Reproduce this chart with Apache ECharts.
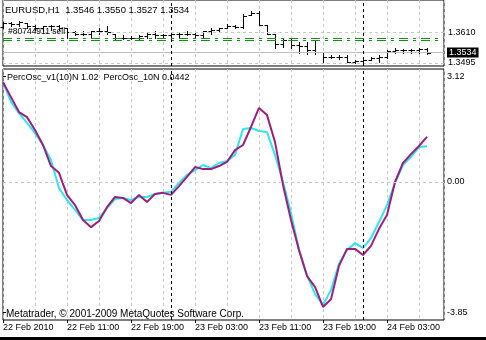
<!DOCTYPE html>
<html><head><meta charset="utf-8">
<script src="https://cdn.jsdelivr.net/npm/echarts@6/dist/echarts.min.js"></script>
<style>html,body{margin:0;padding:0;background:#fff;overflow:hidden}#c{width:486px;height:340px}</style>
</head><body><div id="c"></div>
<script>
// ---- price bars (EURUSD, H1), one per hour starting 22 Feb 2010 ----
const opens  = [1.3631,1.3646,1.3642,1.3644,1.3635,1.3624,1.3635,1.3635,1.3624,1.3609,
                1.3605,1.3605,1.3613,1.3616,1.3605,1.3590,1.3590,1.3590,1.3594,1.3605,
                1.3598,1.3598,1.3602,1.3605,1.3605,1.3598,1.3613,1.3620,1.3627,1.3635,
                1.3631,1.3675,1.3683,1.3638,1.3605,1.3565,1.3579,1.3561,1.3557,1.3543,
                1.3535,1.3517,1.3517,1.3517,1.3498,1.3502,1.3506,1.3513,1.3517,1.3539,
                1.3543,1.3543,1.3543,1.3546];
const highs  = [1.3648,1.3648,1.3651,1.3644,1.3638,1.3635,1.3638,1.3638,1.3624,1.3613,
                1.3613,1.3616,1.3624,1.3635,1.3605,1.3598,1.3594,1.3598,1.3609,1.3613,
                1.3605,1.3605,1.3609,1.3613,1.3609,1.3616,1.3624,1.3627,1.3642,1.3638,
                1.3679,1.3690,1.3690,1.3638,1.3605,1.3587,1.3587,1.3572,1.3572,1.3579,
                1.3535,1.3524,1.3524,1.3524,1.3506,1.3513,1.3517,1.3524,1.3543,1.3550,
                1.3546,1.3546,1.3550,1.3550];
const lows   = [1.3627,1.3635,1.3635,1.3627,1.3620,1.3616,1.3620,1.3620,1.3590,1.3598,
                1.3598,1.3590,1.3605,1.3605,1.3579,1.3583,1.3583,1.3579,1.3587,1.3590,
                1.3590,1.3590,1.3590,1.3598,1.3590,1.3590,1.3605,1.3613,1.3627,1.3624,
                1.3624,1.3675,1.3638,1.3605,1.3550,1.3554,1.3550,1.3531,1.3528,1.3528,
                1.3495,1.3513,1.3509,1.3495,1.3495,1.3495,1.3506,1.3498,1.3513,1.3531,
                1.3531,1.3531,1.3531,1.3527];
const closes = [1.3646,1.3642,1.3649,1.3635,1.3624,1.3635,1.3635,1.3624,1.3609,1.3605,
                1.3605,1.3613,1.3616,1.3609,1.3590,1.3590,1.3590,1.3594,1.3605,1.3598,
                1.3598,1.3602,1.3605,1.3605,1.3598,1.3613,1.3620,1.3624,1.3635,1.3631,
                1.3672,1.3683,1.3638,1.3605,1.3565,1.3579,1.3561,1.3557,1.3543,1.3535,
                1.3517,1.3517,1.3517,1.3498,1.3502,1.3506,1.3513,1.3517,1.3539,1.3543,
                1.3543,1.3543,1.3546,1.3534];

// ---- oscillators ----
const percOscV1 = [2.94,2.50,2.06,1.91,1.53,1.09,0.47,0.27,-0.38,-0.68,
                   -1.12,-1.33,-1.15,-0.74,-0.44,-0.47,-0.62,-0.38,-0.59,-0.35,
                   -0.32,-0.38,-0.12,0.15,0.44,0.38,0.38,0.47,0.59,0.94,
                   1.09,1.62,2.18,1.97,1.18,-0.09,-1.12,-2.00,-2.77,-3.09,
                   -3.68,-3.45,-2.47,-1.97,-1.97,-2.15,-1.88,-1.38,-0.97,0.00,
                   0.56,0.82,1.06,1.33];
const percOsc10N = [2.94,2.36,2.03,1.74,1.44,1.09,0.65,-0.18,-0.53,-0.82,
                    -1.12,-1.12,-1.06,-0.77,-0.50,-0.47,-0.53,-0.44,-0.44,-0.35,
                    -0.32,-0.29,-0.03,0.21,0.35,0.50,0.41,0.56,0.62,0.80,
                    1.56,1.59,1.50,1.47,0.80,0.00,-0.91,-2.00,-2.74,-3.30,
                    -3.62,-3.18,-2.41,-2.00,-1.80,-1.94,-1.65,-1.18,-0.68,-0.03,
                    0.50,0.74,1.03,1.05];

// ---- axis labels / levels ----
const timeLabelIdx = [0, 8, 16, 24, 32, 40, 48];
const timeLabels = ["22 Feb 2010","22 Feb 11:00","22 Feb 19:00","23 Feb 03:00","23 Feb 11:00","23 Feb 19:00","24 Feb 03:00"];
const daySeparators = [21, 45];
const priceTicks = [1.3610, 1.3495];
const oscTicks = [3.12, 0.00, -3.85];
const bidPrice = 1.3534;
const orderLevels = [1.3589, 1.3579];
const headerText = "EURUSD,H1  1.3546 1.3550 1.3527 1.3534";
const orderText = "#80744911 sell";
const oscTitle = "PercOsc_v1(10)N 1.02  PercOsc_10N 0.0442";
const footerText = "Metatrader, \u00A9 2001-2009 MetaQuotes Software Corp.";

const FONT = '"Liberation Sans", Arial, sans-serif';
const ohlc = opens.map((o, i) => [i, o, highs[i], lows[i], closes[i]]);
const line = arr => arr.map((v, i) => [i, v]);
const crisp = v => Math.round(v) + 0.5;

const gridLine = { show: true, lineStyle: { color: '#c8c8c8', type: [3, 3], width: 1 } };
const sepLines = daySeparators.map(d => ({ xAxis: d, lineStyle: { color: '#000', type: [3, 3], width: 1 } }));

const chart = echarts.init(document.getElementById('c'), null, { renderer: 'canvas' });
chart.setOption({
  animation: false,
  backgroundColor: '#fff',
  textStyle: { fontFamily: FONT },
  grid: [
    { left: 3, top: -1, width: 441, height: 67, show: true, borderColor: '#000', borderWidth: 1, backgroundColor: '#fff' },
    { left: 3, top: 69, width: 441, height: 251, show: true, borderColor: '#000', borderWidth: 1, backgroundColor: '#fff' }
  ],
  xAxis: [
    { type: 'value', gridIndex: 0, min: 0, max: 55.125, interval: 4, axisLine: { show: false }, axisTick: { show: false }, axisLabel: { show: false }, splitLine: gridLine },
    { type: 'value', gridIndex: 1, min: 0, max: 55.125, interval: 4, axisLine: { show: false }, axisTick: { show: false }, axisLabel: { show: false }, splitLine: gridLine },
    { type: 'value', gridIndex: 1, min: 0, max: 55.125, position: 'bottom', axisLine: { show: false },
      splitLine: { show: false },
      axisTick: { show: true, customValues: timeLabelIdx, length: 3, lineStyle: { color: '#000' } },
      axisLabel: { show: true, customValues: timeLabelIdx, align: 'left', margin: 3, fontSize: 9, color: '#000', fontFamily: FONT,
        formatter: v => timeLabels[timeLabelIdx.indexOf(Math.round(v))] || '' } }
  ],
  yAxis: [
    { type: 'value', gridIndex: 0, position: 'right', min: 1.34835, max: 1.37306, scale: true,
      axisLine: { show: false }, splitLine: { show: false },
      axisTick: { show: true, customValues: priceTicks, length: 3, lineStyle: { color: '#000' } },
      axisLabel: { show: true, customValues: priceTicks, margin: 4, fontSize: 9, color: '#000', fontFamily: FONT, formatter: v => v.toFixed(4) } },
    { type: 'value', gridIndex: 1, position: 'right', min: -4.0636, max: 3.3274,
      axisLine: { show: false }, splitLine: { show: false },
      axisTick: { show: true, customValues: oscTicks, length: 3, lineStyle: { color: '#000' } },
      axisLabel: { show: true, customValues: oscTicks, margin: 3, fontSize: 9, color: '#000', fontFamily: FONT, formatter: v => v.toFixed(2) } }
  ],
  series: [
    {
      type: 'custom', xAxisIndex: 0, yAxisIndex: 0, data: ohlc, z: 3,
      renderItem: (params, api) => {
        const x = api.value(0);
        const pH = api.coord([x, api.value(2)]);
        const pL = api.coord([x, api.value(3)]);
        const pO = api.coord([x, api.value(1)]);
        const pC = api.coord([x, api.value(4)]);
        const px = crisp(pH[0]);
        const st = { stroke: '#000', lineWidth: 1 };
        return { type: 'group', children: [
          { type: 'line', shape: { x1: px, y1: Math.round(pH[1]), x2: px, y2: Math.round(pL[1]) + 1 }, style: st },
          { type: 'line', shape: { x1: px - 3, y1: crisp(pO[1]), x2: px, y2: crisp(pO[1]) }, style: st },
          { type: 'line', shape: { x1: px, y1: crisp(pC[1]), x2: px + 3.5, y2: crisp(pC[1]) }, style: st }
        ] };
      },
      markLine: {
        silent: true, symbol: 'none', animation: false, precision: 4,
        label: { show: false },
        data: [
          ...priceTicks.map(p => ({ yAxis: p, lineStyle: { color: '#c8c8c8', type: [3, 3], width: 1 } })),
          ...orderLevels.map(p => ({ yAxis: p, lineStyle: { color: '#1a8a1a', type: [9, 5, 3, 5], width: 1 } })),
          { yAxis: bidPrice, lineStyle: { color: '#c0c0c0', type: 'solid', width: 1 },
            label: { show: true, position: 'end', distance: 3, formatter: () => bidPrice.toFixed(4),
                     backgroundColor: '#000', color: '#fff', fontSize: 9, fontFamily: FONT, padding: [1, 2, 0, 2] } },
          ...sepLines
        ]
      }
    },
    {
      type: 'line', xAxisIndex: 1, yAxisIndex: 1, data: line(percOsc10N), symbol: 'none', z: 3,
      lineStyle: { color: '#2fe6ef', width: 2 },
      markLine: {
        silent: true, symbol: 'none', animation: false, label: { show: false },
        data: [ { yAxis: 0, lineStyle: { color: '#c8c8c8', type: [3, 3], width: 1 } }, ...sepLines ]
      }
    },
    {
      type: 'line', xAxisIndex: 1, yAxisIndex: 1, data: line(percOscV1), symbol: 'none', z: 4,
      lineStyle: { color: '#9c1f7e', width: 2 }
    }
  ],
  graphic: [
    { type: 'text', x: 5, y: 10, style: { text: headerText, font: '9.5px ' + FONT, fill: '#000', verticalAlign: 'middle' }, z: 10 },
    { type: 'text', x: 8, y: 31.5, style: { text: orderText, font: '8.5px ' + FONT, fill: '#000', verticalAlign: 'middle' }, z: 10 },
    { type: 'text', x: 7, y: 77.5, style: { text: oscTitle, font: '9px ' + FONT, fill: '#000', verticalAlign: 'middle' }, z: 10 },
    { type: 'text', x: 6, y: 314, style: { text: footerText, font: '10px ' + FONT, fill: '#000', verticalAlign: 'middle' }, z: 10 },
    { type: 'rect', shape: { x: 0, y: 337, width: 486, height: 3 }, style: { fill: '#000' }, z: 10 }
  ]
});
</script>
</body></html>
